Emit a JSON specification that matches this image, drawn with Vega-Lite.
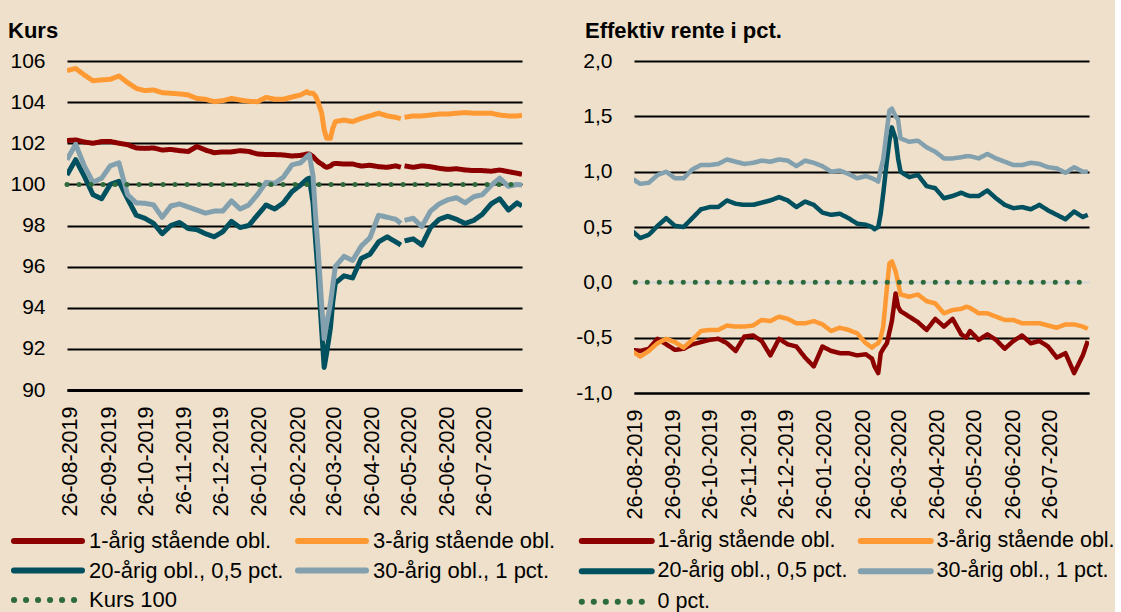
{
  "$schema": "https://vega.github.io/schema/vega-lite/v6.json",
  "background": "#EEE0CA",
  "padding": {"left": 8, "top": 20, "right": 0, "bottom": 0},
  "config": {
    "view": {"stroke": null},
    "font": "Liberation Sans",
    "axis": {"labelColor": "black", "labelFont": "Liberation Sans"},
    "legend": {"labelColor": "black", "labelFont": "Liberation Sans"}
  },
  "datasets": {
    "d": [
      {"d":"2019-08-23","k1":102.13,"k3":105.53,"k20":100.46,"k30":101.2,"r1":-0.61,"r3":-0.62,"r20":0.47,"r30":0.94},
      {"d":"2019-08-30","k1":102.16,"k3":105.64,"k20":101.2,"k30":101.95,"r1":-0.62,"r3":-0.67,"r20":0.40,"r30":0.89},
      {"d":"2019-09-06","k1":102.06,"k3":105.32,"k20":100.4,"k30":100.9,"r1":-0.60,"r3":-0.62,"r20":0.43,"r30":0.90},
      {"d":"2019-09-13","k1":102.0,"k3":105.04,"k20":99.5,"k30":100.1,"r1":-0.51,"r3":-0.55,"r20":0.51,"r30":0.97},
      {"d":"2019-09-20","k1":102.08,"k3":105.08,"k20":99.3,"k30":100.3,"r1":-0.56,"r3":-0.51,"r20":0.58,"r30":1.0},
      {"d":"2019-09-27","k1":102.09,"k3":105.11,"k20":100.0,"k30":100.9,"r1":-0.61,"r3":-0.54,"r20":0.51,"r30":0.94},
      {"d":"2019-10-04","k1":102.0,"k3":105.27,"k20":100.15,"k30":101.05,"r1":-0.60,"r3":-0.59,"r20":0.50,"r30":0.94},
      {"d":"2019-10-11","k1":101.93,"k3":104.95,"k20":99.3,"k30":99.5,"r1":-0.56,"r3":-0.52,"r20":0.58,"r30":1.02},
      {"d":"2019-10-18","k1":101.77,"k3":104.67,"k20":98.5,"k30":99.1,"r1":-0.54,"r3":-0.44,"r20":0.66,"r30":1.06},
      {"d":"2019-10-25","k1":101.75,"k3":104.56,"k20":98.35,"k30":99.08,"r1":-0.52,"r3":-0.43,"r20":0.68,"r30":1.06},
      {"d":"2019-11-01","k1":101.77,"k3":104.59,"k20":98.1,"k30":99.0,"r1":-0.51,"r3":-0.43,"r20":0.68,"r30":1.07},
      {"d":"2019-11-08","k1":101.67,"k3":104.46,"k20":97.6,"k30":98.4,"r1":-0.55,"r3":-0.39,"r20":0.74,"r30":1.11},
      {"d":"2019-11-15","k1":101.7,"k3":104.43,"k20":98.0,"k30":98.95,"r1":-0.62,"r3":-0.40,"r20":0.71,"r30":1.09},
      {"d":"2019-11-22","k1":101.64,"k3":104.40,"k20":98.15,"k30":99.05,"r1":-0.49,"r3":-0.40,"r20":0.70,"r30":1.07},
      {"d":"2019-11-29","k1":101.6,"k3":104.35,"k20":97.85,"k30":98.9,"r1":-0.48,"r3":-0.39,"r20":0.70,"r30":1.08},
      {"d":"2019-12-06","k1":101.84,"k3":104.18,"k20":97.8,"k30":98.75,"r1":-0.53,"r3":-0.34,"r20":0.72,"r30":1.10},
      {"d":"2019-12-13","k1":101.67,"k3":104.14,"k20":97.6,"k30":98.6,"r1":-0.66,"r3":-0.35,"r20":0.74,"r30":1.09},
      {"d":"2019-12-20","k1":101.54,"k3":104.02,"k20":97.45,"k30":98.7,"r1":-0.51,"r3":-0.31,"r20":0.77,"r30":1.11},
      {"d":"2019-12-27","k1":101.58,"k3":104.07,"k20":97.7,"k30":98.7,"r1":-0.56,"r3":-0.33,"r20":0.74,"r30":1.10},
      {"d":"2020-01-03","k1":101.58,"k3":104.18,"k20":98.2,"k30":99.2,"r1":-0.58,"r3":-0.37,"r20":0.68,"r30":1.05},
      {"d":"2020-01-10","k1":101.64,"k3":104.10,"k20":97.9,"k30":98.8,"r1":-0.68,"r3":-0.37,"r20":0.73,"r30":1.10},
      {"d":"2020-01-17","k1":101.6,"k3":104.04,"k20":98.0,"k30":99.0,"r1":-0.76,"r3":-0.35,"r20":0.70,"r30":1.08},
      {"d":"2020-01-24","k1":101.48,"k3":104.02,"k20":98.5,"k30":99.5,"r1":-0.58,"r3":-0.38,"r20":0.63,"r30":1.05},
      {"d":"2020-01-31","k1":101.45,"k3":104.23,"k20":99.0,"k30":100.1,"r1":-0.62,"r3":-0.44,"r20":0.61,"r30":1.0},
      {"d":"2020-02-07","k1":101.45,"k3":104.14,"k20":98.8,"k30":100.05,"r1":-0.64,"r3":-0.41,"r20":0.62,"r30":1.01},
      {"d":"2020-02-14","k1":101.43,"k3":104.14,"k20":99.1,"k30":100.35,"r1":-0.64,"r3":-0.43,"r20":0.58,"r30":0.98},
      {"d":"2020-02-21","k1":101.38,"k3":104.25,"k20":99.65,"k30":100.95,"r1":-0.66,"r3":-0.46,"r20":0.53,"r30":0.94},
      {"d":"2020-02-28","k1":101.41,"k3":104.35,"k20":99.97,"k30":101.05,"r1":-0.65,"r3":-0.55,"r20":0.52,"r30":0.96},
      {"d":"2020-03-04","k1":101.48,"k3":104.51,"k20":100.25,"k30":101.35,"r1":-0.69,"r3":-0.59,"r20":0.50,"r30":0.94},
      {"d":"2020-03-06","k1":101.48,"k3":104.43,"k20":100.3,"k30":101.45,"r1":-0.76,"r3":-0.57,"r20":0.48,"r30":0.93},
      {"d":"2020-03-09","k1":101.35,"k3":104.43,"k20":99.1,"k30":100.4,"r1":-0.82,"r3":-0.55,"r20":0.50,"r30":0.91},
      {"d":"2020-03-11","k1":101.22,"k3":104.30,"k20":97.3,"k30":98.5,"r1":-0.64,"r3":-0.50,"r20":0.62,"r30":1.02},
      {"d":"2020-03-13","k1":101.10,"k3":104.02,"k20":95.7,"k30":96.9,"r1":-0.60,"r3":-0.40,"r20":0.80,"r30":1.11},
      {"d":"2020-03-16","k1":100.99,"k3":103.46,"k20":92.9,"k30":94.1,"r1":-0.55,"r3":-0.05,"r20":1.10,"r30":1.38},
      {"d":"2020-03-18","k1":100.89,"k3":102.65,"k20":91.1,"k30":92.5,"r1":-0.45,"r3":0.17,"r20":1.28,"r30":1.55},
      {"d":"2020-03-20","k1":100.83,"k3":102.24,"k20":91.8,"k30":93.2,"r1":-0.35,"r3":0.19,"r20":1.40,"r30":1.57},
      {"d":"2020-03-23","k1":100.89,"k3":102.24,"k20":93.0,"k30":94.2,"r1":-0.10,"r3":0.10,"r20":1.30,"r30":1.50},
      {"d":"2020-03-25","k1":100.99,"k3":102.73,"k20":94.3,"k30":95.1,"r1":-0.22,"r3":0.0,"r20":1.12,"r30":1.47},
      {"d":"2020-03-27","k1":101.02,"k3":103.05,"k20":95.2,"k30":96.0,"r1":-0.26,"r3":-0.11,"r20":1.00,"r30":1.30},
      {"d":"2020-04-03","k1":100.99,"k3":103.13,"k20":95.55,"k30":96.5,"r1":-0.31,"r3":-0.13,"r20":0.95,"r30":1.27},
      {"d":"2020-04-10","k1":100.99,"k3":103.05,"k20":95.45,"k30":96.3,"r1":-0.36,"r3":-0.11,"r20":0.97,"r30":1.28},
      {"d":"2020-04-17","k1":100.89,"k3":103.21,"k20":96.4,"k30":97.0,"r1":-0.43,"r3":-0.17,"r20":0.87,"r30":1.22},
      {"d":"2020-04-24","k1":100.93,"k3":103.33,"k20":96.6,"k30":97.4,"r1":-0.33,"r3":-0.19,"r20":0.85,"r30":1.18},
      {"d":"2020-05-01","k1":100.86,"k3":103.46,"k20":97.2,"k30":98.5,"r1":-0.40,"r3":-0.28,"r20":0.76,"r30":1.12},
      {"d":"2020-05-08","k1":100.83,"k3":103.33,"k20":97.45,"k30":98.4,"r1":-0.33,"r3":-0.25,"r20":0.78,"r30":1.12},
      {"d":"2020-05-15","k1":100.9,"k3":103.26,"k20":97.2,"k30":98.3,"r1":-0.47,"r3":-0.24,"r20":0.81,"r30":1.13},
      {"d":"2020-05-19","k1":100.83,"k3":103.20,"k20":97.05,"k30":98.1,"r1":-0.50,"r3":-0.22,"r20":0.79,"r30":1.14},
      {"d":"2020-05-21","k1":null,"k3":null,"k20":null,"k30":null,"r1":null,"r3":null,"r20":null,"r30":null},
      {"d":"2020-05-22","k1":100.9,"k3":103.26,"k20":97.25,"k30":98.25,"r1":-0.44,"r3":-0.23,"r20":0.78,"r30":1.14},
      {"d":"2020-05-29","k1":100.83,"k3":103.33,"k20":97.35,"k30":98.35,"r1":-0.52,"r3":-0.28,"r20":0.78,"r30":1.12},
      {"d":"2020-06-05","k1":100.9,"k3":103.33,"k20":97.05,"k30":97.95,"r1":-0.47,"r3":-0.28,"r20":0.83,"r30":1.16},
      {"d":"2020-06-12","k1":100.86,"k3":103.37,"k20":97.9,"k30":98.7,"r1":-0.52,"r3":-0.31,"r20":0.76,"r30":1.12},
      {"d":"2020-06-19","k1":100.78,"k3":103.42,"k20":98.3,"k30":99.05,"r1":-0.60,"r3":-0.34,"r20":0.70,"r30":1.09},
      {"d":"2020-06-26","k1":100.73,"k3":103.42,"k20":98.45,"k30":99.25,"r1":-0.53,"r3":-0.34,"r20":0.67,"r30":1.06},
      {"d":"2020-07-03","k1":100.76,"k3":103.46,"k20":98.3,"k30":99.35,"r1":-0.48,"r3":-0.37,"r20":0.68,"r30":1.06},
      {"d":"2020-07-10","k1":100.7,"k3":103.49,"k20":98.1,"k30":99.1,"r1":-0.55,"r3":-0.37,"r20":0.66,"r30":1.08},
      {"d":"2020-07-17","k1":100.67,"k3":103.46,"k20":98.25,"k30":99.4,"r1":-0.53,"r3":-0.37,"r20":0.70,"r30":1.07},
      {"d":"2020-07-24","k1":100.67,"k3":103.46,"k20":98.55,"k30":99.5,"r1":-0.58,"r3":-0.39,"r20":0.65,"r30":1.04},
      {"d":"2020-07-31","k1":100.64,"k3":103.46,"k20":99.05,"k30":99.95,"r1":-0.68,"r3":-0.41,"r20":0.61,"r30":1.03},
      {"d":"2020-08-07","k1":100.7,"k3":103.37,"k20":99.3,"k30":100.3,"r1":-0.64,"r3":-0.38,"r20":0.57,"r30":0.99},
      {"d":"2020-08-14","k1":100.62,"k3":103.33,"k20":98.75,"k30":99.9,"r1":-0.82,"r3":-0.38,"r20":0.64,"r30":1.04},
      {"d":"2020-08-21","k1":100.54,"k3":103.33,"k20":99.1,"k30":100.0,"r1":-0.66,"r3":-0.40,"r20":0.59,"r30":1.0},
      {"d":"2020-08-25","k1":100.49,"k3":103.36,"k20":98.95,"k30":99.97,"r1":-0.53,"r3":-0.42,"r20":0.61,"r30":1.0}
    ]
  },
  "hconcat": [
    {
      "width": 455,
      "height": 329,
      "title": {"text": "Kurs", "anchor": "start", "frame": "group", "dx": -59, "offset": -10, "baseline": "alphabetic", "fontSize": 22, "fontWeight": "bold", "color": "black", "font": "Liberation Sans"},
      "layer": [
        {
          "data": {"name": "d"},
          "transform": [{"fold": ["k1", "k3", "k20", "k30"], "as": ["s", "v"]}],
          "mark": {"type": "line", "strokeWidth": 5, "strokeJoin": "round", "invalid": "break-paths-show-domains", "clip": true},
          "encoding": {
            "x": {
              "field": "d", "type": "temporal",
              "scale": {"type": "utc", "domain": [{"year": 2019, "month": 8, "date": 23, "utc": true}, {"year": 2020, "month": 8, "date": 25, "utc": true}]},
              "axis": {
                "title": null, "grid": false, "domain": true, "domainColor": "black", "domainWidth": 3, "ticks": false,
                "labelAngle": -90, "labelAlign": "right", "labelBaseline": "middle", "labelPadding": 16, "labelFontSize": 21.5,
                "labelOverlap": false, "labelFlush": false,
                "labelExpr": "utcFormat(datum.value, '%d-%m-%Y')",
                "values": [
                  {"year": 2019, "month": 8, "date": 26, "utc": true}, {"year": 2019, "month": 9, "date": 26, "utc": true},
                  {"year": 2019, "month": 10, "date": 26, "utc": true}, {"year": 2019, "month": 11, "date": 26, "utc": true},
                  {"year": 2019, "month": 12, "date": 26, "utc": true}, {"year": 2020, "month": 1, "date": 26, "utc": true},
                  {"year": 2020, "month": 2, "date": 26, "utc": true}, {"year": 2020, "month": 3, "date": 26, "utc": true},
                  {"year": 2020, "month": 4, "date": 26, "utc": true}, {"year": 2020, "month": 5, "date": 26, "utc": true},
                  {"year": 2020, "month": 6, "date": 26, "utc": true}, {"year": 2020, "month": 7, "date": 26, "utc": true}
                ]
              }
            },
            "y": {
              "field": "v", "type": "quantitative",
              "scale": {"domain": [90, 106], "nice": false, "zero": false},
              "axis": {"title": null, "values": [90, 92, 94, 96, 98, 100, 102, 104, 106], "format": "d", "grid": true, "gridColor": "black", "gridWidth": 2, "domain": false, "ticks": false, "labelFontSize": 21, "labelPadding": 22}
            },
            "color": {
              "field": "s", "type": "nominal",
              "scale": {"domain": ["k1", "k3", "k20", "k30", "ref"], "range": ["#8C0000", "#FF9933", "#00505F", "#82A0AD", "#2D6B3C"]},
              "legend": {
                "title": null, "orient": "none", "direction": "horizontal", "legendX": -30, "legendY": 469, "columns": 2, "columnPadding": 2, "rowPadding": 5.5,
                "symbolType": "M-6.8,0L6.8,0", "symbolSize": 100, "symbolStrokeWidth": 6, "labelFontSize": 22, "labelOffset": 30, "labelLimit": 400, "padding": 0,
                "labelExpr": "datum.value == 'k1' ? '1-årig stående obl.' : datum.value == 'k3' ? '3-årig stående obl.' : datum.value == 'k20' ? '20-årig obl., 0,5 pct.' : datum.value == 'k30' ? '30-årig obl., 1 pct.' : 'Kurs 100'",
                "encode": {"symbols": {"update": {"strokeCap": {"value": "round"}}}}
              }
            },
            "strokeDash": {
              "field": "s", "type": "nominal",
              "scale": {"domain": ["k1", "k3", "k20", "k30", "ref"], "range": [[1, 0], [1, 0], [1, 0], [1, 0], [0.1, 11.9]]}
            }
          }
        },
        {
          "data": {"values": [{"d": "2019-08-23", "v": 100, "s": "ref"}, {"d": "2020-08-25", "v": 100, "s": "ref"}]},
          "mark": {"type": "line", "strokeWidth": 5, "strokeCap": "round"},
          "encoding": {
            "x": {"field": "d", "type": "temporal"},
            "y": {"field": "v", "type": "quantitative"},
            "color": {"field": "s", "type": "nominal"},
            "strokeDash": {"field": "s", "type": "nominal"}
          }
        }
      ]
    },
    {
      "width": 455,
      "height": 332,
      "title": {"text": "Effektiv rente i pct.", "anchor": "start", "frame": "group", "dx": -49, "offset": -10, "baseline": "alphabetic", "fontSize": 22, "fontWeight": "bold", "color": "black", "font": "Liberation Sans"},
      "layer": [
        {
          "data": {"name": "d"},
          "transform": [{"fold": ["r1", "r3", "r20", "r30"], "as": ["s", "v"]}, {"filter": "isValid(datum.v)"}],
          "mark": {"type": "line", "strokeWidth": 4.5, "strokeJoin": "round", "clip": true},
          "encoding": {
            "x": {
              "field": "d", "type": "temporal",
              "scale": {"type": "utc", "domain": [{"year": 2019, "month": 8, "date": 25, "utc": true}, {"year": 2020, "month": 8, "date": 26, "utc": true}]},
              "axis": {
                "title": null, "grid": false, "domain": true, "domainColor": "black", "domainWidth": 2, "ticks": false,
                "labelAngle": -90, "labelAlign": "right", "labelBaseline": "middle", "labelPadding": 16, "labelFontSize": 21.5,
                "labelOverlap": false, "labelFlush": false,
                "labelExpr": "utcFormat(datum.value, '%d-%m-%Y')",
                "values": [
                  {"year": 2019, "month": 8, "date": 26, "utc": true}, {"year": 2019, "month": 9, "date": 26, "utc": true},
                  {"year": 2019, "month": 10, "date": 26, "utc": true}, {"year": 2019, "month": 11, "date": 26, "utc": true},
                  {"year": 2019, "month": 12, "date": 26, "utc": true}, {"year": 2020, "month": 1, "date": 26, "utc": true},
                  {"year": 2020, "month": 2, "date": 26, "utc": true}, {"year": 2020, "month": 3, "date": 26, "utc": true},
                  {"year": 2020, "month": 4, "date": 26, "utc": true}, {"year": 2020, "month": 5, "date": 26, "utc": true},
                  {"year": 2020, "month": 6, "date": 26, "utc": true}, {"year": 2020, "month": 7, "date": 26, "utc": true}
                ]
              }
            },
            "y": {
              "field": "v", "type": "quantitative",
              "scale": {"domain": [-1, 2], "nice": false, "zero": false},
              "axis": {"title": null, "values": [-1, -0.5, 0, 0.5, 1, 1.5, 2], "labelExpr": "replace(replace(format(datum.value, '.1f'), '.', ','), '−', '-')", "grid": true, "gridColor": {"condition": {"test": "datum.value === 0", "value": "#D3D7DC"}, "value": "black"}, "gridWidth": 2, "domain": false, "ticks": false, "labelFontSize": 21, "labelPadding": 22}
            },
            "color": {
              "field": "s", "type": "nominal",
              "scale": {"domain": ["r1", "r3", "r20", "r30", "ref"], "range": ["#8C0000", "#FF9933", "#00505F", "#82A0AD", "#2D6B3C"]},
              "legend": {
                "title": null, "orient": "none", "direction": "horizontal", "legendX": -28, "legendY": 469, "columns": 2, "columnPadding": 0, "rowPadding": 5.5,
                "symbolType": "M-7,0L7,0", "symbolSize": 100, "symbolStrokeWidth": 6, "labelFontSize": 21.5, "labelOffset": 30, "labelLimit": 400, "padding": 0,
                "labelExpr": "datum.value == 'r1' ? '1-årig stående obl.' : datum.value == 'r3' ? '3-årig stående obl.' : datum.value == 'r20' ? '20-årig obl., 0,5 pct.' : datum.value == 'r30' ? '30-årig obl., 1 pct.' : '0 pct.'",
                "encode": {"symbols": {"update": {"strokeCap": {"value": "round"}}}}
              }
            },
            "strokeDash": {
              "field": "s", "type": "nominal",
              "scale": {"domain": ["r1", "r3", "r20", "r30", "ref"], "range": [[1, 0], [1, 0], [1, 0], [1, 0], [0.1, 11.9]]}
            }
          }
        },
        {
          "data": {"values": [{"d": "2019-08-26", "v": 0, "s": "ref"}, {"d": "2020-08-25", "v": 0, "s": "ref"}]},
          "mark": {"type": "line", "strokeWidth": 5, "strokeCap": "round"},
          "encoding": {
            "x": {"field": "d", "type": "temporal"},
            "y": {"field": "v", "type": "quantitative"},
            "color": {"field": "s", "type": "nominal"},
            "strokeDash": {"field": "s", "type": "nominal"}
          }
        }
      ]
    }
  ],
  "spacing": 112,
  "bounds": "flush",
  "resolve": {
    "scale": {"x": "independent", "y": "independent", "color": "independent", "strokeDash": "independent"},
    "legend": {"color": "independent", "strokeDash": "independent"}
  }
}
